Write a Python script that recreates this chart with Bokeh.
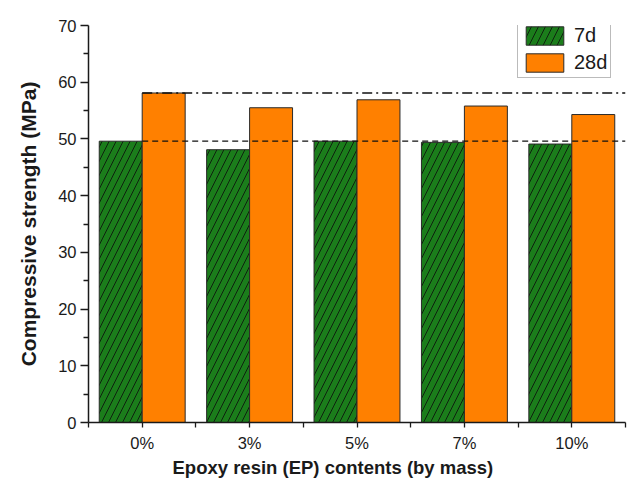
from bokeh.plotting import figure
from bokeh.models import (Range1d, FixedTicker, Legend, LegendItem, ColumnDataSource, Title)
from bokeh.embed import file_html
from bokeh.resources import INLINE

categories = ["0%", "3%", "5%", "7%", "10%"]
strength_7d = [49.6, 48.1, 49.6, 49.4, 49.1]
strength_28d = [58.1, 55.5, 56.9, 55.8, 54.3]
series_names = ["7d", "28d"]
y_ticks = [0, 10, 20, 30, 40, 50, 60, 70]
x_title = "Epoxy resin (EP) contents (by mass)"
y_title = "Compressive strength (MPa)"

centers = [i + 0.5 for i in range(len(categories))]
src7 = ColumnDataSource(dict(x=[c - 0.2 for c in centers], top=strength_7d))
src28 = ColumnDataSource(dict(x=[c + 0.2 for c in centers], top=strength_28d))

p = figure(width=627, height=479, output_backend="svg", toolbar_location=None,
           x_range=Range1d(0, len(categories)), y_range=Range1d(0, 70),
           min_border_left=88, min_border_right=2, min_border_top=25, min_border_bottom=57)
p.background_fill_color = "white"
p.border_fill_color = "white"
p.outline_line_color = None
p.grid.visible = False

FONT = "Liberation Sans"

r7 = p.vbar(x="x", top="top", width=0.4, source=src7, fill_color="#1b7d1b",
            line_color="#2a2a2a", line_width=1, hatch_pattern="/", hatch_color="#0a0a0a",
            hatch_scale=14, hatch_weight=0.8)
r28 = p.vbar(x="x", top="top", width=0.4, source=src28, fill_color="#ff8000",
             line_color="#2a2a2a", line_width=1)

# reference lines at the 0% values
p.line(x=[centers[0], len(categories)], y=[strength_7d[0]] * 2, line_color="#111111",
       line_width=1.3, line_dash="6 4")
p.line(x=[centers[0], len(categories)], y=[strength_28d[0]] * 2, line_color="#111111",
       line_width=1.3, line_dash="10 4 2 4")

# axes
xa = p.xaxis[0]
xa.ticker = FixedTicker(ticks=centers, minor_ticks=list(range(len(categories) + 1)))
xa.major_label_overrides = {c: lab for c, lab in zip(centers, categories)}
ya = p.yaxis[0]
ya.ticker = FixedTicker(ticks=y_ticks, minor_ticks=[t + 5 for t in y_ticks[:-1]])

for ax in (xa, ya):
    ax.axis_line_color = "#1a1a1a"
    ax.axis_line_width = 1.5
    ax.major_tick_line_color = "#1a1a1a"
    ax.minor_tick_line_color = "#1a1a1a"
    ax.major_tick_line_width = 1.3
    ax.minor_tick_line_width = 1.3
    ax.major_tick_in = 0
    ax.minor_tick_in = 0
    ax.major_label_text_font = FONT
    ax.major_label_text_font_size = "16.5px"
    ax.major_label_text_color = "#1a1a1a"
    ax.axis_label_text_font = FONT
    ax.axis_label_text_font_style = "bold"
    ax.axis_label_text_color = "#1a1a1a"

xa.major_tick_out = 5
xa.minor_tick_out = 5
ya.major_tick_out = 8
ya.minor_tick_out = 5
xa.major_label_standoff = 6
ya.major_label_standoff = 4
ya.axis_label = y_title
ya.axis_label_text_font_size = "21px"
ya.axis_label_standoff = 15

# x-axis title, shifted slightly left of centre as in the reference
p.add_layout(Title(text=x_title, align="left", offset=84, standoff=0,
                   text_font=FONT, text_font_size="18.5px", text_font_style="bold",
                   text_color="#1a1a1a"), "below")

legend = Legend(items=[LegendItem(label=series_names[0], renderers=[r7]),
                       LegendItem(label=series_names[1], renderers=[r28])],
                location=(429, 344), margin=0, padding=3, spacing=4,
                glyph_width=47, glyph_height=23, label_standoff=6,
                label_text_font=FONT, label_text_font_size="20px",
                label_text_color="#1a1a1a", border_line_color="#777777",
                border_line_width=1.2, background_fill_color="white",
                background_fill_alpha=1)
p.add_layout(legend, "center")

open("out.html", "w").write(file_html(p, INLINE))
